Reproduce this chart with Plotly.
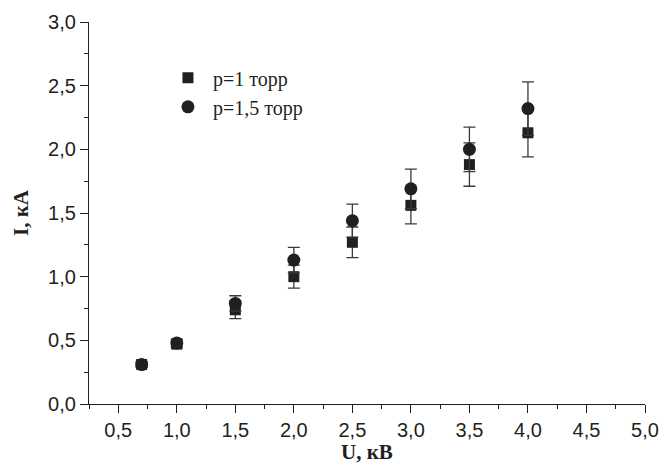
import plotly.graph_objects as go

U = [0.7, 1.0, 1.5, 2.0, 2.5, 3.0, 3.5, 4.0]
I_p1 = [0.31, 0.47, 0.74, 1.00, 1.27, 1.56, 1.88, 2.13]
err_p1 = [0.02, 0.03, 0.07, 0.09, 0.12, 0.145, 0.17, 0.19]
I_p15 = [0.31, 0.48, 0.79, 1.13, 1.44, 1.69, 2.00, 2.32]
err_p15 = [0.02, 0.03, 0.06, 0.10, 0.13, 0.155, 0.175, 0.21]
names = ["p=1 торр", "p=1,5 торр"]

ink = "#231f20"
serif = "Liberation Serif, Times New Roman, serif"
sans = "Liberation Sans, Arial, sans-serif"

fig = go.Figure()
fig.add_trace(go.Scatter(
    x=U, y=I_p1, mode="markers", name=names[0],
    marker=dict(symbol="square", size=11, color=ink),
    error_y=dict(type="data", array=err_p1, visible=True, color="#3a3a3a", thickness=1.3, width=6),
))
fig.add_trace(go.Scatter(
    x=U, y=I_p15, mode="markers", name=names[1],
    marker=dict(symbol="circle", size=13, color=ink),
    error_y=dict(type="data", array=err_p15, visible=True, color="#3a3a3a", thickness=1.3, width=6),
))

axis_common = dict(
    showline=True, linecolor=ink, linewidth=1.2, mirror=False,
    showgrid=False, zeroline=False, automargin=False,
    ticks="outside", ticklen=8, tickwidth=1.2, tickcolor=ink,
    tickformat=".1f", dtick=0.5, ticklabeloverflow="allow",
    tickfont=dict(family=sans, size=20, color=ink),
)

fig.update_layout(
    width=659, height=464,
    margin=dict(l=89, r=14, t=22, b=60),
    paper_bgcolor="white", plot_bgcolor="white",
    separators=", ",
    showlegend=True,
    legend=dict(x=0.133, y=0.905, xanchor="left", yanchor="top",
                bgcolor="rgba(0,0,0,0)",
                font=dict(family=serif, size=20, color=ink),
                tracegroupgap=0, itemwidth=40),
    xaxis=dict(range=[0.25, 5.0], tick0=0.5,
               title=dict(text="<b>U, кВ</b>", standoff=5,
                          font=dict(family=serif, size=21, color=ink)),
               minor=dict(ticks="outside", ticklen=4, tickwidth=1.2, tickcolor=ink,
                          dtick=0.25, tick0=0.25, showgrid=False),
               **axis_common),
    yaxis=dict(range=[0, 3.0], tick0=0,
               title=dict(text="<b>I, кА</b>", standoff=13,
                          font=dict(family=serif, size=21, color=ink)),
               minor=dict(ticks="outside", ticklen=4, tickwidth=1.2, tickcolor=ink,
                          dtick=0.25, tick0=0, showgrid=False),
               **axis_common),
)

fig.write_html("out.html", config={"displayModeBar": False},
               post_script="document.body.style.margin='0';document.body.style.padding='0';")
